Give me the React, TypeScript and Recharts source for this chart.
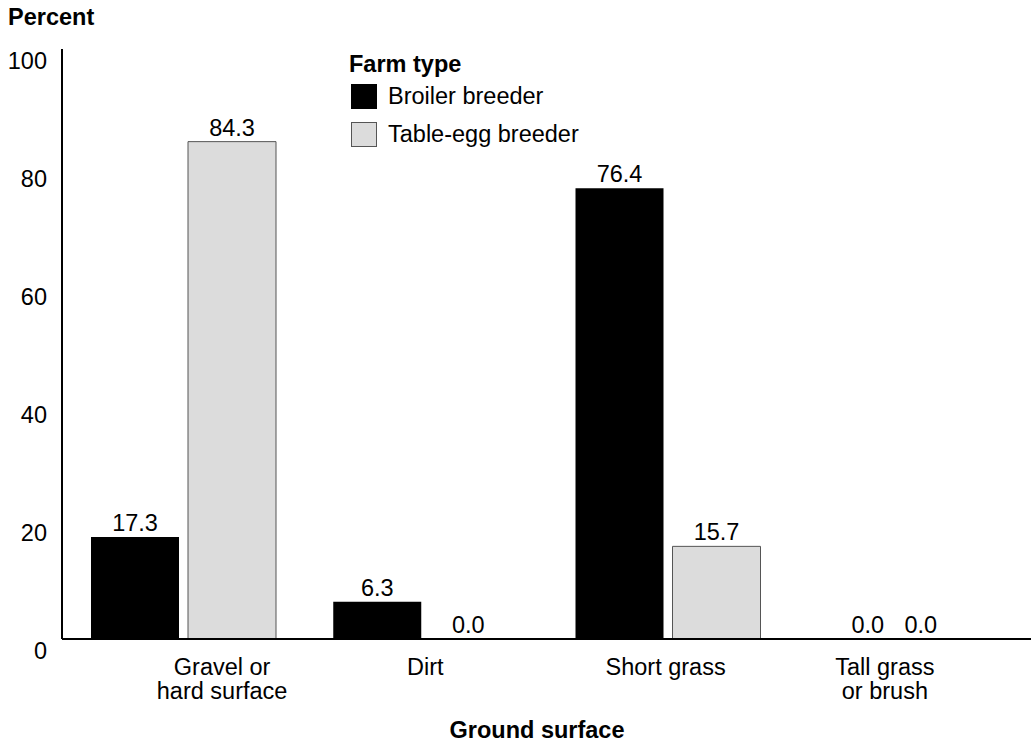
import { BarChart, Bar, XAxis, YAxis, Legend, LabelList } from "recharts"

// ground surface categories ("\n" = line break in tick label)
const categories = ["Gravel or\nhard surface", "Dirt", "Short grass", "Tall grass\nor brush"]
const broilerBreeder = [17.3, 6.3, 76.4, 0.0]
const tableEggBreeder = [84.3, 0.0, 15.7, 0.0]
const yTicks = [0, 20, 40, 60, 80, 100]

const data = categories.map((surface, i) => ({
  surface,
  broiler: broilerBreeder[i],
  tableEgg: tableEggBreeder[i],
}))

const FONT = '"Liberation Sans", Arial, Helvetica, sans-serif'
const FS = 23.5
// the source figure doesn't center some labels on their bars / bands
const tickShift = [39, 0, -2, -25]
const valueShift: Record<string, number[]> = {
  broiler: [0, 0, 0, 6],
  tableEgg: [0, -6, 0, -38],
}
const strokeOf: Record<string, string> = { broiler: "#000", tableEgg: "#555" }

function SurfaceTick({ x, y, payload }: any) {
  const idx = categories.indexOf(payload.value)
  const cx = x + (tickShift[idx] ?? 0)
  const lines = String(payload.value).split("\n")
  return (
    <text x={cx} y={y} textAnchor="middle" fontSize={FS} fill="#000" fontFamily={FONT}>
      {lines.map((l, i) => (
        <tspan key={i} x={cx} dy={i === 0 ? 36 : 24}>{l}</tspan>
      ))}
    </text>
  )
}

function PercentTick({ x, y, payload }: any) {
  return (
    <text x={x} y={y + 12} dy="0.355em" textAnchor="end" fontSize={FS} fill="#000" fontFamily={FONT}>
      {payload.value}
    </text>
  )
}

function valueLabel(series: string) {
  return (props: any) => {
    const { x, y, width, value, index } = props
    const cx = Number(x) + Number(width) / 2 + (valueShift[series]?.[index] ?? 0)
    return (
      <text x={cx} y={Number(y) - 6} textAnchor="middle" fontSize={FS} fill="#000" fontFamily={FONT}>
        {Number(value).toFixed(1)}
      </text>
    )
  }
}

function FarmLegend({ payload }: any) {
  return (
    <div style={{ fontFamily: FONT, color: "#000" }}>
      <div style={{ fontWeight: 700, fontSize: FS, lineHeight: "26px" }}>Farm type</div>
      {(payload ?? []).map((p: any) => (
        <div key={p.dataKey} style={{ display: "flex", alignItems: "center", height: 38 }}>
          <div
            style={{
              width: 24,
              height: 23,
              background: p.color,
              border: `1px solid ${strokeOf[p.dataKey] ?? "#000"}`,
              marginLeft: 2,
              marginRight: 11,
            }}
          />
          <span style={{ fontSize: FS }}>{p.value}</span>
        </div>
      ))}
    </div>
  )
}

export default function App() {
  return (
    <div style={{ position: "absolute", left: 0, top: 0, width: 1031, height: 744, background: "#fff", fontFamily: FONT }}>
      <div style={{ position: "absolute", left: 8, top: 3, fontWeight: 700, fontSize: FS, lineHeight: "28px" }}>
        Percent
      </div>
      <BarChart
        width={1031}
        height={744}
        data={data}
        margin={{ top: 49, right: 0, bottom: 45, left: 0 }}
        barGap={9}
      >
        <XAxis
          dataKey="surface"
          height={60}
          axisLine={{ stroke: "#000", strokeWidth: 2 }}
          tickLine={false}
          tickSize={0}
          tickMargin={0}
          tick={<SurfaceTick />}
          interval={0}
        />
        <YAxis
          domain={[0, 100]}
          ticks={yTicks}
          width={62}
          axisLine={{ stroke: "#000", strokeWidth: 2 }}
          tickLine={false}
          tickSize={0}
          tickMargin={15}
          tick={<PercentTick />}
        />
        <Legend
          layout="horizontal"
          verticalAlign="middle"
          align="center"
          content={<FarmLegend />}
          wrapperStyle={{ top: 51, left: 349, width: 300, height: 160 }}
        />
        <Bar dataKey="broiler" name="Broiler breeder" fill="#000" barSize={88} minPointSize={0.01} isAnimationActive={false}>
          <LabelList dataKey="broiler" content={valueLabel("broiler")} />
        </Bar>
        <Bar
          dataKey="tableEgg"
          name="Table-egg breeder"
          fill="#dcdcdc"
          stroke="#555"
          strokeWidth={1}
          barSize={88}
          minPointSize={0.01}
          isAnimationActive={false}
        >
          <LabelList dataKey="tableEgg" content={valueLabel("tableEgg")} />
        </Bar>
      </BarChart>
      <div
        style={{
          position: "absolute",
          left: 537,
          top: 716,
          transform: "translateX(-50%)",
          whiteSpace: "nowrap",
          fontWeight: 700,
          fontSize: FS,
          lineHeight: "28px",
        }}
      >
        Ground surface
      </div>
    </div>
  )
}
